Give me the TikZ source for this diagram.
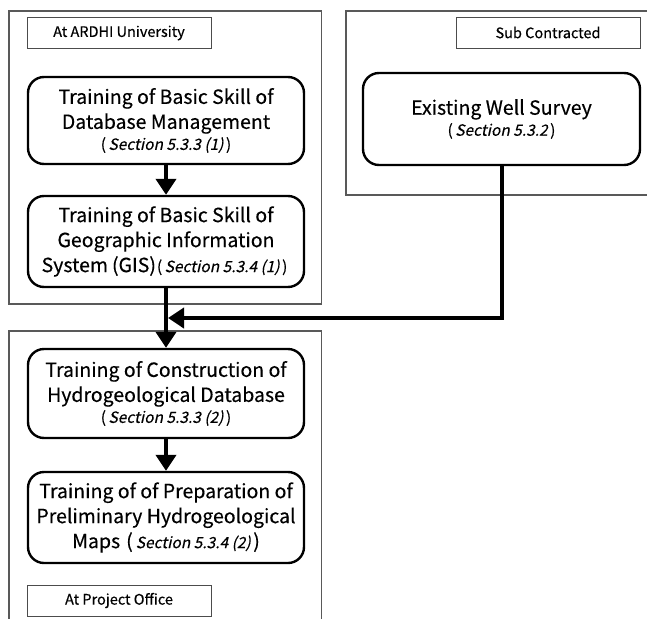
\documentclass[tikz,border=0pt]{standalone}
\usepackage{fontspec}
\setmainfont[FakeBold=0.35]{Noto Sans CJK JP}
\newfontfamily\secf[FakeSlant=0.22,FakeBold=0.35]{Noto Sans CJK JP}
\usetikzlibrary{arrows.meta}
\newcommand{\sect}[1]{{\fontsize{15.5}{18}\selectfont\secf #1}}
\newcommand{\spar}[1]{{\fontsize{15.5}{18}\selectfont\kern3pt(\kern2.5pt{\secf #1\kern2.5pt})\kern3pt}}
\tikzset{
  frame/.style={draw=black!65, line width=1.1pt},
  tag/.style={draw=black!70, line width=0.9pt, minimum width=184pt, minimum height=31pt, inner sep=0pt, font=\fontsize{14.5}{16}\selectfont},
  task/.style={draw, line width=2.4pt, rounded corners=16pt, minimum width=276pt, inner sep=0pt, align=center, font=\fontsize{19.5}{25}\selectfont},
  arr/.style={line width=4pt, -{Triangle[length=16pt,width=20pt]}, line join=miter}
}
\begin{document}
\begin{tikzpicture}[x=1pt,y=-1pt]
\clip (0,0) rectangle (647,618);
\fill[white] (0,0) rectangle (647,618);
% frames
\draw[frame] (9,11) rectangle (321.5,304);
\draw[frame] (346,11) rectangle (660,195);
\draw[frame] (9,640) -- (9,331) -- (321.5,331) -- (321.5,640);
% tags
\node[tag] (tagA) at (119,33) {At ARDHI University};
\node[tag] (tagS) at (548,32.5) {Sub Contracted};
\node[tag] (tagP) at (119,600.5) {At Project Office};
% tasks
\node[task, minimum height=87pt] (b1) at (166,120.5) {Training of Basic Skill of\\Database Management\\[-4pt]\spar{Section 5.3.3 (1)}};
\node[task, minimum height=91pt] (b2) at (166,241.5) {Training of Basic Skill of\\Geographic Information\\System\kern4pt(GIS)\kern-2pt\spar{Section 5.3.4 (1)}};
\node[task, minimum height=89pt] (b3) at (166,393.5) {Training of Construction of\\Hydrogeological Database\\[-4pt]\spar{Section 5.3.3 (2)}};
\node[task, minimum height=91pt] (b4) at (166,517.5) {Training of of Preparation of\\Preliminary Hydrogeological\\Maps\kern6pt(\kern3pt\sect{Section 5.3.4 (2)\kern2.5pt})};
\node[task, minimum width=277pt, minimum height=92pt] (ews) at (501.5,119) {Existing Well Survey\\[-4pt]\spar{Section 5.3.2}};
% connectors
\coordinate (m) at (168,318);
\draw[arr] (b1.south) -- (b2.north);
\draw[arr] (b2.south) -- (b3.north);
\draw[arr] (b3.south) -- (b4.north);
\draw[arr] (ews.south) |- (m);
\end{tikzpicture}
\end{document}
